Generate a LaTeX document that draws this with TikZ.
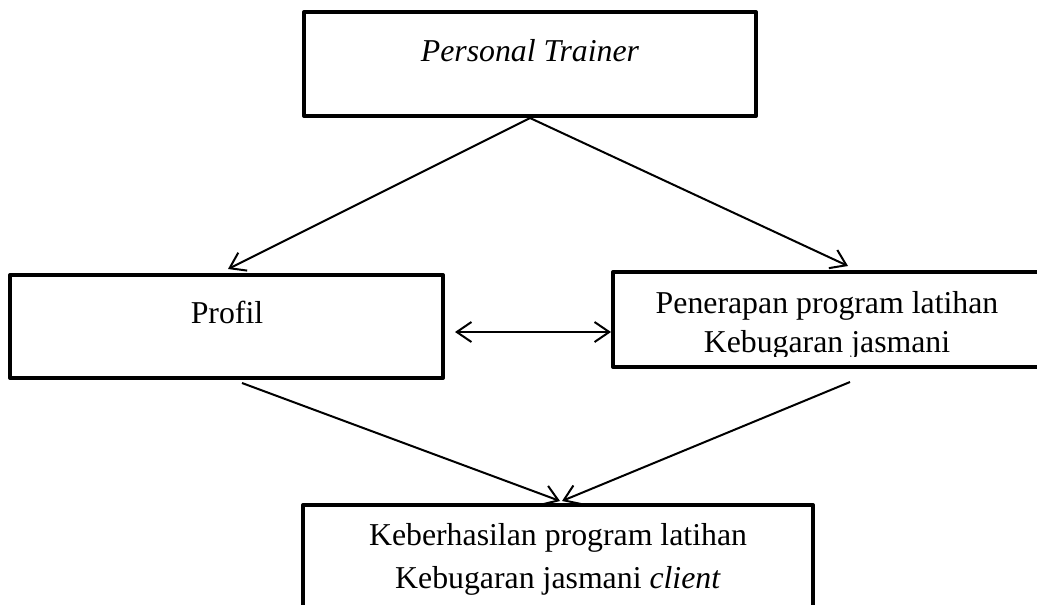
\documentclass[tikz,border=0pt]{standalone}
\usepackage{fontspec}
\setmainfont{Liberation Serif}
\usetikzlibrary{arrows.meta,fit,calc}
\begin{document}
\begin{tikzpicture}[x=0.75pt,y=-0.75pt,
  box/.style={draw,line width=3pt,line join=round,inner sep=0pt},
  conn/.style={line width=1.5pt,-{Straight Barb[length=11pt,width=15pt]}},
  dconn/.style={line width=1.5pt,{Straight Barb[length=11pt,width=15pt]}-{Straight Barb[length=11pt,width=15pt]}},
  txt/.style={anchor=base,inner sep=0pt,font=\fontsize{23.85}{28}\selectfont}]
\clip (0,0) rectangle (1037,604);
\fill[white] (0,0) rectangle (1037,604);
% boxes
\node[box,fit={(304,12)(756,116)}] (pt) {};
\node[box,fit={(10,275)(443,378)}] (profil) {};
\node[box,fit={(613,272)(1045,367)}] (pen) {};
\node[box,fit={(303,505)(813,625)}] (kb) {};
% texts
\node[txt] (tpt) at (530,61) {\itshape Personal Trainer};
\node[txt] (tprofil) at (227,323) {Profil};
\begin{scope}
\clip (613,272) rectangle (1037,356);
\node[txt] (tpen1) at (827,313) {Penerapan program latihan};
\node[txt] (tpen2) at (827,352) {Kebugaran jasmani};
\end{scope}
\node[txt] (tkb1) at (558,545) {Keberhasilan program latihan};
\node[txt] (tkb2) at (558,588) {Kebugaran jasmani \textit{client}};
% connectors
\draw[conn] (pt.south) -- ($(profil.north)+(1.5,-4)$);
\draw[conn] (pt.south) -- ($(pen.north)+(19,-4)$);
\draw[dconn] ($(profil.east)+(10,5.5)$) -- ($(pen.west)+(0,12.5)$);
\draw[conn] ($(profil.south)+(15.5,3)$) -- ($(kb.north)+(2,-2)$);
\draw[conn] ($(pen.south)+(21,13)$) -- ($(kb.north)+(4,-2)$);
\end{tikzpicture}
\end{document}
